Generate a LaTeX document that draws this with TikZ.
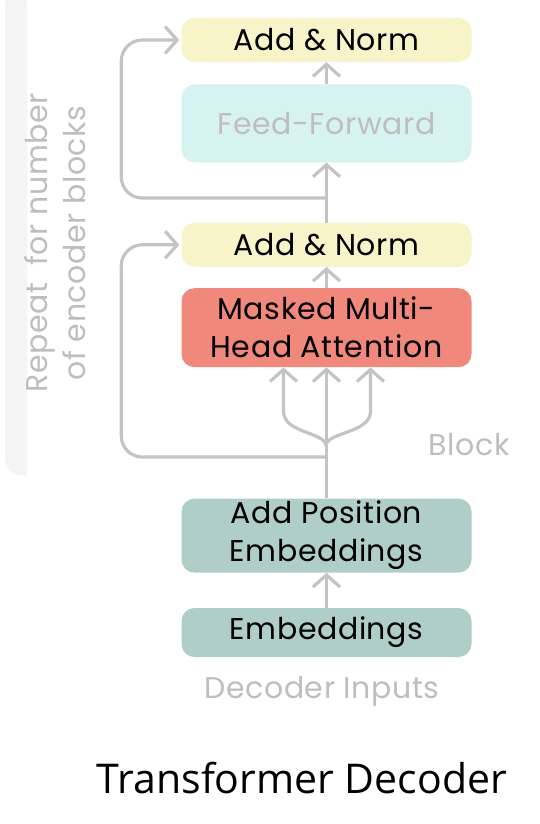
\documentclass[tikz,border=0pt]{standalone}
\usepackage{fontspec}
\setmainfont[LetterSpace=2]{Poppins}
\newfontfamily\titlefont{Open Sans}
\usetikzlibrary{positioning}
\usetikzlibrary{arrows.meta}
\definecolor{normyellow}{HTML}{F7F4C9}
\definecolor{ffcyan}{HTML}{D7F3F1}
\definecolor{attsalmon}{HTML}{F0887C}
\definecolor{embteal}{HTML}{B0CEC8}
\definecolor{linegray}{HTML}{C4C4C4}
\definecolor{fadegray}{HTML}{BEBEBE}
\definecolor{panelgray}{HTML}{F4F6F3}
\tikzset{
	layer/.style={
		rounded corners=13pt,
		minimum width=290pt,
		inner sep=0pt,
		align=center,
		font=\fontsize{30}{38}\selectfont},
	norm/.style={layer, fill=normyellow, minimum height=44pt},
	flow/.style={
		draw=linegray,
		line width=3.2pt,
		-{Straight Barb[length=12pt,width=27pt]}},
	fadetext/.style={
		text=fadegray,
		font=\fontsize{30}{38}\selectfont}
}
\begin{document}
\begin{tikzpicture}[x=1pt,y=-1pt]
	\useasboundingbox[fill=white] (0,0) rectangle (540,824);
	% side panel
	\fill[panelgray] (27,-10) -- (27,475) -- (20,475) [rounded corners=15pt] -- (5,475) -- (5,-10) -- cycle;
	\node[fadetext, rotate=90, align=center] (repeat) at (55,243) {Repeat\ \ for number\\of encoder blocks};

	% layers
	\node[layer, fill=embteal, minimum height=49pt] (emb) at (326.5,632.5) {Embeddings};
	\node[layer, fill=embteal, minimum height=74pt, above=35pt of emb] (addpos) {Add Position\\Embeddings};
	\node[layer, fill=attsalmon, minimum height=79pt, above=131pt of addpos] (mha) {Masked Multi-\\Head Attention};
	\node[norm, above=21pt of mha] (normA) {Add \& Norm};
	\node[layer, fill=ffcyan, text=fadegray, minimum height=78pt, above=60pt of normA] (ff) {Feed-Forward};
	\node[norm, above=22pt of ff] (normB) {Add \& Norm};

	\coordinate (resA) at (326,457);
	\coordinate (resB) at (326,198);
	\coordinate (branch) at (326,446);

	% connectors
	\draw[flow] (emb) -- (addpos);
	\draw[flow] (addpos) -- (mha);
	\draw[flow] (branch) .. controls +(0,-14) and +(0,22) .. ([xshift=-43pt,yshift=-44pt]mha.south) -- ([xshift=-43pt]mha.south);
	\draw[flow] (branch) .. controls +(0,-14) and +(0,22) .. ([xshift=44pt,yshift=-44pt]mha.south) -- ([xshift=44pt]mha.south);
	\draw[flow] (mha) -- (normA);
	\draw[flow] (normA) -- (ff);
	\draw[flow] (ff) -- (normB);
	\draw[flow, rounded corners=21pt] (resA) -| ([xshift=-60pt]normA.west) -- ([xshift=-2pt]normA.west);
	\draw[flow, rounded corners=21pt] (resB) -| ([xshift=-60pt]normB.west) -- ([xshift=-2pt]normB.west);

	% labels
	\node[fadetext, anchor=base] (block) at (469,455) {Block};
	\node[fadetext, anchor=base] (inputs) at (322,698) {Decoder Inputs};
	\node[anchor=base, font=\titlefont\fontsize{41}{48}\selectfont] (title) at (302,793) {Transformer Decoder};
\end{tikzpicture}
\end{document}
